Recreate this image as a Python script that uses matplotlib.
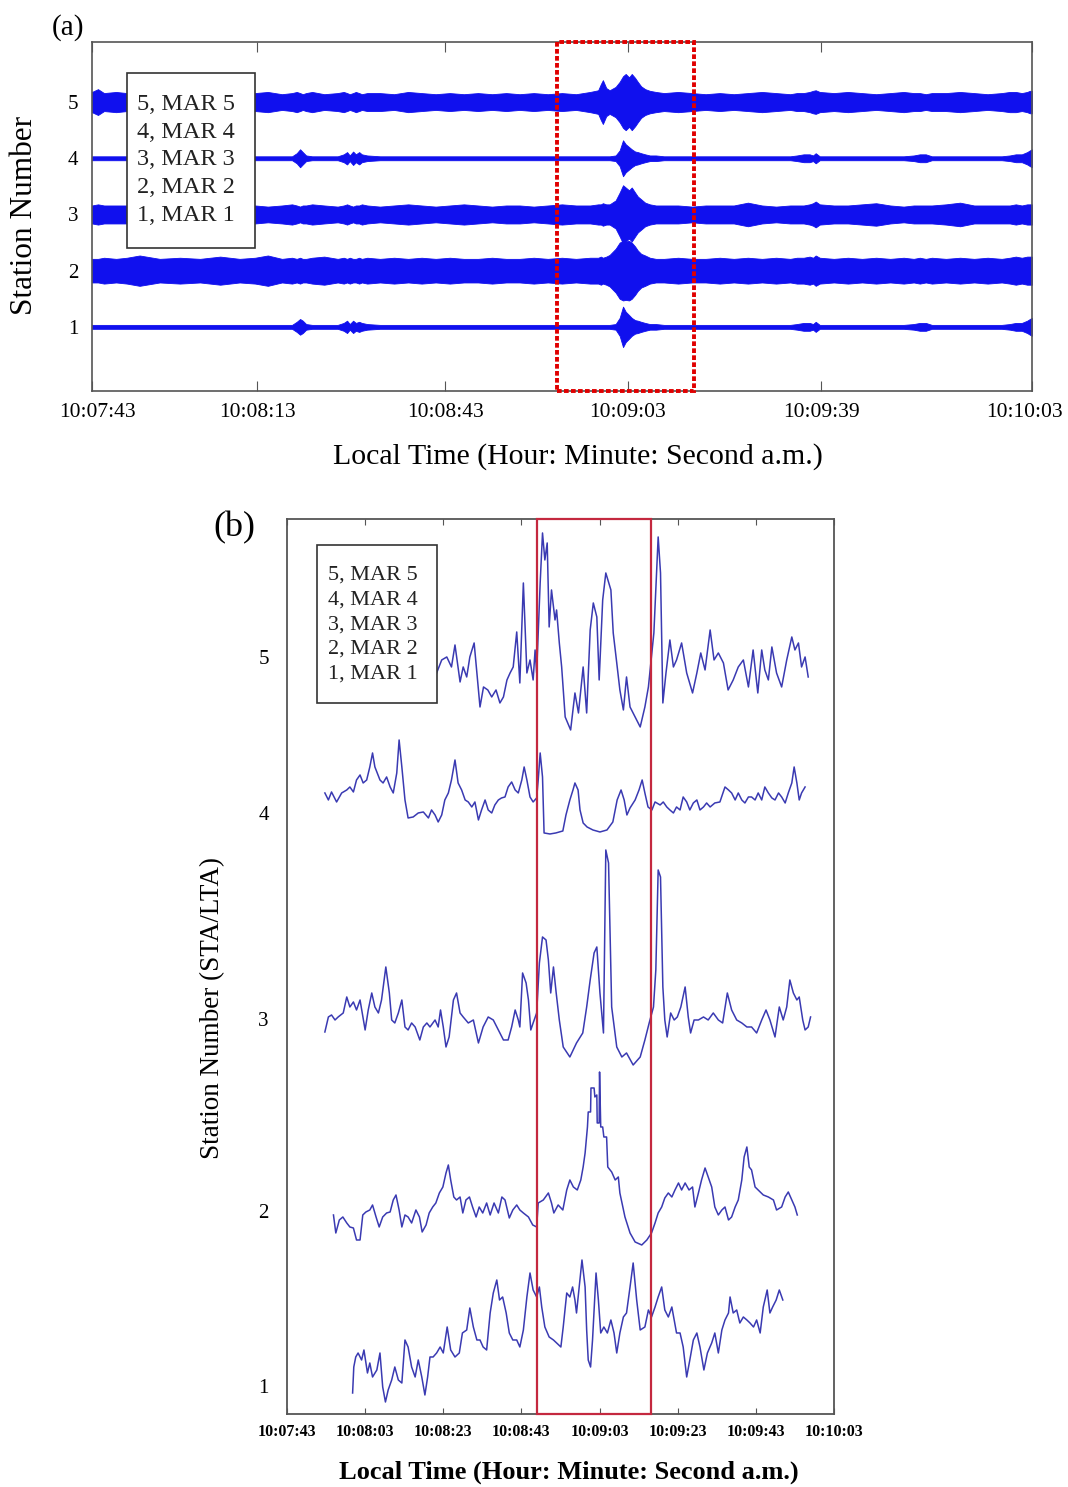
import matplotlib
matplotlib.use('Agg')
import matplotlib.pyplot as plt
import matplotlib.transforms as mtransforms
from matplotlib.patches import Rectangle
import numpy as np

plt.rcParams['font.family'] = ['Liberation Serif', 'DejaVu Serif']

########################################################
# Panel (a): seismic traces as envelopes
# knots in seconds after 10:07:43, half amplitude in station units
########################################################

a_t = [0.0, 0.9, 1.8, 3.6, 5.2, 7.1, 10.1, 13.1, 16.1, 19.1,
       22.0, 24.3, 26.2, 28.3, 29.8, 30.5, 31.0, 31.4, 31.9, 32.8,
       34.6, 36.6, 37.5, 38.0, 38.4, 38.9, 39.3, 39.8, 40.2, 41.0,
       42.9, 45.0, 47.1, 49.1, 51.2, 53.3, 55.4, 57.5, 59.6, 61.7,
       63.7, 65.8, 67.9, 70.0, 72.1, 74.2, 75.4, 75.8, 76.1, 76.6,
       77.1, 78.0, 78.6, 79.1, 79.5, 80.0, 80.4, 80.9, 81.3, 81.8,
       82.4, 83.1, 84.0, 85.2, 87.3, 89.4, 91.4, 93.5, 95.6, 97.7,
       99.8, 101.9, 104.0, 105.0, 106.0, 106.9, 107.4, 107.8, 108.4, 110.5,
       112.6, 114.7, 116.8, 118.9, 120.9, 122.4, 123.3, 124.2, 125.1, 127.2,
       129.3, 131.4, 133.4, 135.5, 136.7, 137.6, 138.5, 139.3, 139.7, 140.0]

a_amp5 = [0.18, 0.23, 0.16, 0.18, 0.16, 0.16, 0.16, 0.16, 0.16, 0.16,
          0.16, 0.16, 0.18, 0.14, 0.16, 0.18, 0.16, 0.14, 0.16, 0.18,
          0.14, 0.16, 0.18, 0.16, 0.14, 0.16, 0.18, 0.16, 0.14, 0.16,
          0.16, 0.14, 0.18, 0.16, 0.14, 0.16, 0.14, 0.16, 0.14, 0.16,
          0.14, 0.16, 0.14, 0.16, 0.14, 0.18, 0.21, 0.32, 0.39, 0.25,
          0.21, 0.27, 0.36, 0.46, 0.50, 0.44, 0.50, 0.43, 0.36, 0.28,
          0.23, 0.20, 0.18, 0.16, 0.18, 0.16, 0.14, 0.16, 0.14, 0.16,
          0.18, 0.16, 0.14, 0.16, 0.16, 0.18, 0.20, 0.21, 0.18, 0.16,
          0.18, 0.16, 0.14, 0.16, 0.18, 0.16, 0.16, 0.14, 0.16, 0.16,
          0.18, 0.16, 0.14, 0.16, 0.18, 0.18, 0.16, 0.18, 0.20, 0.20]

a_amp4 = [0.035, 0.035, 0.035, 0.035, 0.035, 0.035, 0.035, 0.035, 0.035, 0.035,
          0.035, 0.035, 0.035, 0.035, 0.035, 0.09, 0.16, 0.11, 0.05, 0.035,
          0.035, 0.035, 0.07, 0.11, 0.05, 0.12, 0.07, 0.11, 0.07, 0.05,
          0.035, 0.035, 0.035, 0.035, 0.035, 0.035, 0.035, 0.035, 0.035, 0.035,
          0.035, 0.035, 0.035, 0.035, 0.035, 0.035, 0.035, 0.035, 0.035, 0.035,
          0.035, 0.05, 0.14, 0.32, 0.25, 0.20, 0.16, 0.12, 0.11, 0.09,
          0.07, 0.05, 0.05, 0.035, 0.035, 0.035, 0.035, 0.035, 0.035, 0.035,
          0.035, 0.035, 0.035, 0.05, 0.07, 0.07, 0.05, 0.09, 0.035, 0.035,
          0.035, 0.035, 0.035, 0.035, 0.035, 0.05, 0.07, 0.07, 0.035, 0.035,
          0.035, 0.035, 0.035, 0.035, 0.05, 0.07, 0.07, 0.11, 0.14, 0.16]

a_amp3 = [0.16, 0.18, 0.16, 0.16, 0.16, 0.16, 0.16, 0.16, 0.16, 0.16,
          0.16, 0.16, 0.14, 0.16, 0.18, 0.16, 0.14, 0.16, 0.16, 0.18,
          0.16, 0.14, 0.16, 0.18, 0.16, 0.14, 0.16, 0.16, 0.18, 0.16,
          0.14, 0.16, 0.18, 0.16, 0.14, 0.16, 0.18, 0.16, 0.14, 0.16,
          0.16, 0.14, 0.16, 0.18, 0.16, 0.16, 0.18, 0.18, 0.20, 0.18,
          0.18, 0.25, 0.39, 0.52, 0.48, 0.43, 0.48, 0.39, 0.32, 0.27,
          0.21, 0.18, 0.16, 0.16, 0.16, 0.14, 0.16, 0.16, 0.16, 0.21,
          0.16, 0.14, 0.16, 0.16, 0.16, 0.18, 0.20, 0.23, 0.18, 0.16,
          0.16, 0.18, 0.20, 0.16, 0.14, 0.16, 0.16, 0.16, 0.16, 0.18,
          0.21, 0.16, 0.16, 0.16, 0.16, 0.18, 0.16, 0.18, 0.18, 0.18]

a_amp2 = [0.21, 0.21, 0.23, 0.21, 0.23, 0.27, 0.21, 0.23, 0.21, 0.25,
          0.21, 0.23, 0.27, 0.21, 0.23, 0.21, 0.23, 0.21, 0.21, 0.23,
          0.25, 0.21, 0.23, 0.21, 0.23, 0.21, 0.21, 0.23, 0.21, 0.23,
          0.21, 0.23, 0.21, 0.23, 0.21, 0.23, 0.21, 0.21, 0.23, 0.21,
          0.21, 0.23, 0.21, 0.23, 0.21, 0.23, 0.23, 0.25, 0.23, 0.25,
          0.28, 0.39, 0.50, 0.53, 0.52, 0.53, 0.50, 0.43, 0.36, 0.30,
          0.27, 0.23, 0.21, 0.21, 0.23, 0.21, 0.21, 0.23, 0.21, 0.23,
          0.21, 0.23, 0.21, 0.23, 0.23, 0.25, 0.23, 0.27, 0.23, 0.21,
          0.23, 0.21, 0.23, 0.21, 0.23, 0.21, 0.23, 0.21, 0.23, 0.21,
          0.23, 0.21, 0.23, 0.21, 0.23, 0.25, 0.23, 0.25, 0.25, 0.25]

a_amp1 = [0.035, 0.035, 0.035, 0.035, 0.035, 0.035, 0.035, 0.035, 0.035, 0.035,
          0.035, 0.035, 0.035, 0.035, 0.035, 0.09, 0.14, 0.11, 0.05, 0.035,
          0.035, 0.035, 0.07, 0.11, 0.05, 0.11, 0.07, 0.09, 0.07, 0.05,
          0.035, 0.035, 0.035, 0.035, 0.035, 0.035, 0.035, 0.035, 0.035, 0.035,
          0.035, 0.035, 0.035, 0.035, 0.035, 0.035, 0.035, 0.035, 0.035, 0.035,
          0.035, 0.05, 0.16, 0.36, 0.27, 0.21, 0.16, 0.12, 0.11, 0.09,
          0.07, 0.05, 0.05, 0.035, 0.035, 0.035, 0.035, 0.035, 0.035, 0.035,
          0.035, 0.035, 0.035, 0.05, 0.07, 0.07, 0.05, 0.09, 0.035, 0.035,
          0.035, 0.035, 0.035, 0.035, 0.035, 0.05, 0.07, 0.07, 0.035, 0.035,
          0.035, 0.035, 0.035, 0.035, 0.05, 0.07, 0.07, 0.11, 0.14, 0.16]

a_stations = [5, 4, 3, 2, 1]
a_xticks = [0, 24.6, 52.6, 79.8, 108.6, 140]
a_xticklabels = ['10:07:43', '10:08:13', '10:08:43', '10:09:03', '10:09:39', '10:10:03']
a_window = (69.3, 89.7)

########################################################
# Panel (b): STA/LTA curves (seconds, offset from station line)
########################################################

b_t5 = [38.3, 39.6, 40.9, 42.1, 43.0, 44.3, 45.1, 46.0, 46.8, 47.9,
        48.7, 49.4, 50.3, 51.4, 52.4, 53.5, 54.5, 55.4, 56.3, 57.1,
        57.9, 58.8, 59.6, 60.5, 61.4, 62.2, 63.0, 63.5, 63.9, 64.8,
        65.4, 66.0, 66.6, 67.1, 67.7, 68.6, 69.0, 69.7, 70.3, 71.2,
        72.6, 73.7, 74.6, 75.8, 76.7, 77.6, 78.4, 79.3, 79.9, 80.8,
        81.6, 82.9, 83.5, 84.4, 85.2, 86.1, 86.9, 87.8, 89.1, 90.4,
        91.6, 92.5, 93.9, 95.0, 95.6, 96.2, 97.0, 98.0, 98.9, 99.7,
        101.0, 102.3, 103.8, 104.9, 105.9, 107.0, 108.3, 109.3, 110.4, 111.7,
        112.9, 114.2, 115.5, 116.8, 118.1, 119.3, 120.5, 121.5, 122.3, 123.2,
        124.1, 125.3, 126.6, 127.9, 129.2, 130.0, 130.9, 131.7, 132.6, 133.4]
b_r5 = [-0.16, -0.03, 0.00, -0.10, 0.12, -0.25, -0.10, -0.20, 0.00, 0.14,
        -0.20, -0.50, -0.30, -0.33, -0.40, -0.33, -0.46, -0.40, -0.23, -0.16,
        -0.10, 0.25, -0.26, 0.74, -0.16, -0.03, -0.23, 0.07, -0.16, 0.74,
        1.24, 0.97, 1.14, 0.30, 0.67, 0.37, 0.47, 0.14, -0.10, -0.60,
        -0.73, -0.36, -0.56, -0.10, -0.56, 0.27, 0.54, 0.40, -0.23, 0.57,
        0.84, 0.67, 0.24, -0.06, -0.33, -0.53, -0.20, -0.50, -0.60, -0.70,
        -0.50, -0.30, 0.24, 1.20, 0.84, -0.46, -0.16, 0.17, -0.10, -0.03,
        0.14, -0.16, -0.36, -0.16, 0.04, -0.13, 0.27, -0.03, 0.04, -0.06,
        -0.33, -0.23, -0.10, -0.03, -0.30, 0.07, -0.36, 0.07, -0.13, -0.23,
        0.10, -0.16, -0.30, -0.03, 0.20, 0.07, 0.14, -0.10, 0.00, -0.20]

b_t4 = [9.7, 10.6, 11.4, 12.7, 14.0, 15.3, 16.1, 17.0, 17.8, 18.7,
        19.5, 20.4, 21.2, 21.9, 22.5, 23.1, 23.8, 24.6, 25.5, 26.4,
        27.2, 28.1, 28.7, 29.4, 30.2, 31.0, 32.3, 33.6, 34.9, 36.2,
        37.0, 37.9, 38.7, 39.6, 40.4, 41.3, 42.1, 43.0, 43.8, 44.7,
        45.6, 46.4, 47.3, 48.1, 49.0, 49.8, 50.7, 51.5, 52.4, 53.2,
        54.1, 54.9, 55.8, 56.6, 57.5, 58.4, 59.2, 60.1, 60.7, 61.4,
        62.2, 63.0, 63.9, 64.3, 64.8, 65.4, 65.8, 67.3, 68.8, 70.6,
        71.4, 72.4, 73.2, 73.7, 74.5, 75.0, 75.8, 76.8, 78.3, 80.1,
        81.9, 83.4, 84.5, 85.5, 86.3, 87.0, 87.8, 89.1, 90.1, 90.9,
        91.6, 92.4, 93.4, 94.2, 95.5, 96.3, 97.2, 98.0, 98.9, 99.7,
        100.6, 101.4, 102.3, 103.1, 104.0, 104.9, 105.7, 106.6, 107.4, 108.3,
        109.5, 110.8, 112.1, 113.0, 113.8, 114.7, 115.5, 116.4, 117.2, 118.1,
        118.9, 119.8, 120.6, 121.5, 122.3, 123.2, 124.1, 124.9, 125.8, 126.6,
        127.5, 128.3, 129.2, 129.8, 130.5, 131.1, 131.7, 132.6]
b_r4 = [0.20, 0.13, 0.21, 0.11, 0.20, 0.23, 0.26, 0.21, 0.33, 0.38,
        0.30, 0.33, 0.46, 0.60, 0.46, 0.40, 0.33, 0.30, 0.36, 0.26,
        0.20, 0.40, 0.73, 0.46, 0.13, -0.05, -0.04, 0.00, 0.01, -0.05,
        0.03, -0.02, -0.09, -0.02, 0.13, 0.20, 0.33, 0.53, 0.30, 0.23,
        0.13, 0.11, 0.06, 0.11, -0.07, 0.03, 0.13, 0.03, 0.00, 0.08,
        0.13, 0.15, 0.16, 0.26, 0.31, 0.23, 0.20, 0.33, 0.46, 0.33,
        0.16, 0.11, 0.15, 0.33, 0.60, 0.36, -0.20, -0.21, -0.20, -0.18,
        -0.02, 0.13, 0.23, 0.30, 0.23, 0.03, -0.10, -0.14, -0.17, -0.19,
        -0.17, -0.09, 0.13, 0.23, 0.13, -0.02, 0.05, 0.13, 0.23, 0.33,
        0.20, 0.06, 0.03, 0.11, 0.08, 0.11, 0.06, 0.03, 0.00, 0.06,
        0.03, 0.16, 0.11, 0.03, 0.10, 0.13, 0.03, 0.06, 0.10, 0.06,
        0.10, 0.11, 0.26, 0.23, 0.20, 0.13, 0.20, 0.13, 0.10, 0.16,
        0.16, 0.13, 0.20, 0.13, 0.26, 0.20, 0.15, 0.13, 0.20, 0.16,
        0.10, 0.20, 0.30, 0.46, 0.30, 0.13, 0.20, 0.26]

b_t3 = [9.7, 10.6, 11.4, 12.3, 13.1, 14.4, 15.3, 16.1, 17.0, 17.8,
        18.7, 20.0, 20.8, 21.7, 22.5, 23.4, 24.2, 25.3, 26.2, 26.8,
        27.6, 28.5, 29.4, 30.2, 31.0, 31.9, 32.8, 34.0, 34.9, 35.8,
        36.6, 37.9, 38.7, 39.3, 40.0, 40.7, 41.5, 42.6, 43.4, 44.3,
        45.1, 46.4, 47.7, 49.0, 50.2, 51.5, 52.8, 54.1, 55.4, 56.6,
        57.5, 58.4, 59.2, 59.6, 60.3, 61.2, 61.8, 62.4, 63.0, 63.9,
        64.6, 65.4, 66.3, 66.9, 67.5, 68.2, 68.9, 69.7, 70.7, 72.4,
        74.1, 75.7, 76.7, 77.6, 78.6, 79.3, 80.1, 81.0, 81.6, 82.3,
        83.1, 84.4, 85.7, 86.9, 88.6, 90.4, 91.6, 92.7, 93.8, 94.4,
        95.0, 95.6, 96.2, 96.7, 97.3, 98.2, 99.1, 99.9, 100.8, 101.9,
        102.7, 103.3, 104.2, 105.3, 106.6, 107.8, 109.1, 110.4, 111.5, 112.7,
        113.8, 115.1, 116.4, 117.7, 118.9, 120.2, 121.5, 122.6, 123.6, 124.9,
        126.0, 127.0, 127.9, 128.7, 129.6, 130.5, 131.1, 132.0, 132.6, 133.4,
        134.0]
b_r3 = [-0.13, 0.02, 0.04, -0.01, 0.02, 0.06, 0.22, 0.12, 0.17, 0.09,
        0.19, -0.11, 0.09, 0.26, 0.12, 0.06, 0.19, 0.52, 0.26, -0.01,
        -0.04, 0.06, 0.19, -0.08, -0.11, -0.04, -0.08, -0.21, -0.08, -0.04,
        -0.08, -0.01, -0.08, 0.09, -0.08, -0.28, -0.18, 0.19, 0.26, 0.06,
        0.02, -0.04, -0.01, -0.24, -0.08, 0.02, -0.01, -0.11, -0.21, -0.21,
        -0.08, 0.09, -0.01, -0.08, 0.46, 0.36, 0.19, -0.11, -0.04, 0.06,
        0.56, 0.82, 0.79, 0.59, 0.26, 0.52, 0.26, -0.01, -0.28, -0.38,
        -0.24, -0.14, 0.12, 0.39, 0.66, 0.72, 0.26, -0.14, 1.69, 1.56,
        0.12, -0.28, -0.38, -0.34, -0.46, -0.38, -0.21, -0.04, 0.12, 0.49,
        1.49, 1.42, 0.32, -0.01, -0.18, 0.06, -0.01, 0.02, 0.12, 0.32,
        0.02, -0.14, -0.01, -0.01, 0.02, -0.01, 0.06, -0.01, -0.04, 0.26,
        0.09, -0.01, -0.04, -0.08, -0.08, -0.14, -0.01, 0.09, -0.01, -0.18,
        0.12, -0.01, 0.12, 0.39, 0.26, 0.19, 0.22, -0.01, -0.11, -0.08,
        0.02]

b_t2 = [11.9, 12.5, 13.4, 14.3, 15.3, 16.1, 17.0, 17.8, 18.7, 19.4,
        20.2, 21.2, 21.9, 22.8, 23.6, 24.5, 25.5, 26.4, 27.2, 27.9,
        28.7, 29.4, 30.2, 31.0, 31.9, 33.0, 33.9, 34.6, 35.6, 36.4,
        37.3, 38.1, 39.0, 39.9, 40.7, 41.3, 41.9, 42.7, 43.4, 44.3,
        45.0, 45.8, 46.7, 47.5, 48.4, 49.2, 50.1, 51.1, 52.0, 53.0,
        54.1, 55.0, 55.8, 56.9, 57.8, 58.8, 59.6, 60.5, 61.8, 62.9,
        63.9, 64.3, 65.6, 66.9, 67.7, 68.3, 69.4, 70.6, 71.6, 72.4,
        73.3, 74.3, 75.2, 75.8, 76.3, 76.9, 77.1, 77.7, 77.8, 78.6,
        78.8, 79.3, 79.4, 79.9, 80.0, 80.3, 80.8, 81.1, 81.8, 82.1,
        83.1, 84.0, 84.8, 85.2, 86.5, 87.8, 89.1, 90.8, 92.1, 93.3,
        94.2, 95.0, 95.9, 96.7, 97.6, 98.5, 99.3, 100.2, 101.0, 101.9,
        102.9, 103.8, 104.4, 105.3, 106.1, 107.0, 107.8, 108.7, 109.5, 110.4,
        111.3, 112.1, 113.0, 113.8, 114.7, 115.5, 116.4, 117.0, 117.7, 118.3,
        118.9, 119.8, 120.6, 121.9, 123.2, 124.5, 125.3, 126.6, 127.5, 128.3,
        129.2, 130.0, 130.6]
b_r2 = [-0.04, -0.22, -0.09, -0.06, -0.12, -0.16, -0.17, -0.29, -0.29, -0.04,
        -0.01, 0.01, 0.06, -0.06, -0.16, -0.06, -0.02, -0.01, 0.11, 0.16,
        0.01, -0.16, -0.04, -0.06, -0.12, 0.01, -0.06, -0.21, -0.14, -0.02,
        0.04, 0.08, 0.18, 0.24, 0.38, 0.46, 0.31, 0.14, 0.11, 0.14,
        -0.02, 0.11, 0.14, 0.04, -0.06, 0.04, -0.02, 0.08, -0.04, 0.08,
        -0.02, 0.14, 0.11, -0.07, 0.01, 0.06, 0.01, -0.02, -0.06, -0.14,
        -0.16, 0.08, 0.11, 0.18, 0.08, -0.02, 0.06, 0.01, 0.21, 0.31,
        0.24, 0.21, 0.31, 0.44, 0.58, 0.84, 0.99, 0.99, 1.23, 1.23,
        1.14, 1.16, 0.88, 0.88, 1.39, 0.84, 0.84, 0.74, 0.74, 0.44,
        0.39, 0.31, 0.34, 0.18, -0.06, -0.22, -0.31, -0.34, -0.29, -0.22,
        -0.12, -0.02, 0.04, 0.13, 0.18, 0.14, 0.21, 0.28, 0.21, 0.28,
        0.21, 0.24, 0.04, 0.18, 0.31, 0.43, 0.34, 0.24, 0.04, -0.04,
        0.01, 0.04, -0.09, -0.06, 0.04, 0.11, 0.31, 0.54, 0.64, 0.44,
        0.41, 0.24, 0.21, 0.16, 0.14, 0.11, 0.01, 0.04, 0.14, 0.19,
        0.11, 0.04, -0.04]

b_t1 = [16.8, 17.1, 17.6, 18.2, 19.1, 19.7, 20.6, 21.2, 21.9, 23.0,
        23.8, 24.5, 25.2, 25.9, 26.8, 27.6, 28.5, 29.4, 30.2, 31.0,
        31.9, 32.8, 33.6, 34.5, 35.3, 36.0, 36.6, 37.4, 38.3, 39.2,
        40.0, 41.0, 41.9, 43.0, 44.1, 44.9, 46.0, 46.8, 47.7, 48.6,
        49.4, 50.2, 51.1, 52.0, 52.8, 53.7, 54.4, 55.2, 56.1, 56.9,
        57.8, 58.8, 59.6, 60.5, 61.4, 62.2, 63.0, 63.9, 64.6, 65.2,
        66.0, 67.1, 68.2, 69.0, 70.1, 70.7, 71.6, 72.4, 73.1, 73.7,
        74.1, 74.8, 75.5, 76.3, 76.7, 77.1, 77.7, 78.2, 79.1, 79.7,
        80.3, 81.1, 82.0, 82.9, 83.7, 84.4, 85.2, 86.1, 86.9, 87.8,
        88.6, 89.5, 90.4, 91.6, 92.5, 93.3, 94.2, 95.0, 95.9, 96.7,
        97.6, 98.5, 99.7, 100.6, 101.4, 102.3, 103.1, 104.0, 104.9, 105.7,
        106.7, 107.6, 108.7, 109.5, 110.4, 111.3, 112.1, 113.0, 113.4, 114.2,
        115.1, 115.9, 116.8, 117.7, 118.5, 119.4, 120.2, 121.1, 121.9, 122.9,
        123.6, 124.3, 125.2, 126.0, 126.9]
b_r1 = [-0.07, 0.19, 0.29, 0.33, 0.26, 0.36, 0.13, 0.23, 0.09, 0.16,
        0.33, -0.01, -0.16, -0.04, 0.06, 0.19, 0.06, 0.03, 0.46, 0.39,
        0.19, 0.09, 0.26, 0.09, -0.09, 0.09, 0.29, 0.29, 0.33, 0.39,
        0.33, 0.59, 0.36, 0.29, 0.33, 0.53, 0.56, 0.78, 0.59, 0.46,
        0.46, 0.39, 0.36, 0.73, 0.93, 1.06, 0.86, 0.89, 0.73, 0.53,
        0.46, 0.46, 0.39, 0.56, 0.89, 1.13, 0.96, 0.89, 0.99, 0.79,
        0.59, 0.49, 0.46, 0.43, 0.39, 0.59, 0.93, 0.89, 0.99, 0.86,
        0.73, 0.99, 1.26, 0.99, 0.56, 0.26, 0.19, 0.46, 1.13, 0.86,
        0.53, 0.59, 0.53, 0.66, 0.53, 0.33, 0.53, 0.69, 0.73, 0.99,
        1.23, 0.86, 0.56, 0.59, 0.76, 0.69, 0.79, 0.89, 0.99, 0.76,
        0.69, 0.79, 0.53, 0.53, 0.39, 0.09, 0.26, 0.46, 0.53, 0.39,
        0.16, 0.33, 0.43, 0.53, 0.33, 0.56, 0.66, 0.73, 0.89, 0.73,
        0.76, 0.63, 0.69, 0.66, 0.63, 0.59, 0.66, 0.53, 0.79, 0.96,
        0.73, 0.79, 0.86, 0.96, 0.86]

b_xticks = [0, 20, 40, 60, 80, 100, 120, 140]
b_xticklabels = ['10:07:43', '10:08:03', '10:08:23', '10:08:43',
                 '10:09:03', '10:09:23', '10:09:43', '10:10:03']
b_station_pos = [7.57, 6.01, 3.95, 2.03, 0.28]
b_window = (64.0, 93.2)

legend_lines = ['5, MAR 5', '4, MAR 4', '3, MAR 3', '2, MAR 2', '1, MAR 1']

blue_a = '#1010ee'
blue_b = '#3a3ab2'
spine_col = '#555555'

fig = plt.figure(figsize=(10.68, 14.87), dpi=100)

########################################################
# (a)
########################################################
ax = fig.add_axes([0.0861, 0.7371, 0.8801, 0.2347])
for st, amp in zip(a_stations, [a_amp5, a_amp4, a_amp3, a_amp2, a_amp1]):
    amp = np.array(amp)
    ax.fill_between(a_t, st - amp, st + amp, color=blue_a, lw=0.6, zorder=2)

ax.set_xlim(0, 140)
ax.set_ylim(-0.14, 6.07)
ax.set_xticks(a_xticks)
ax.set_xticklabels(a_xticklabels, fontsize=15.5)
ax.set_yticks([1, 2, 3, 4, 5])
ax.set_yticklabels(['1', '2', '3', '4', '5'], fontsize=15)
ax.tick_params(axis='x', direction='in', length=7, top=True, pad=9, color=spine_col)
ax.tick_params(axis='y', length=0, pad=10)
for s in ax.spines.values():
    s.set_color(spine_col)
    s.set_linewidth(1.2)
# nudge the end labels inwards a little, as in the figure
shifts = [6, 0, 0, 0, 0, -7]
for lab, dx in zip(ax.get_xticklabels(), shifts):
    lab.set_transform(lab.get_transform() +
                      mtransforms.ScaledTranslation(dx / 100, 0, fig.dpi_scale_trans))

trans = mtransforms.blended_transform_factory(ax.transData, ax.transAxes)
ax.add_patch(Rectangle((a_window[0], 0), a_window[1] - a_window[0], 1, transform=trans,
                       fill=False, ec='#e00000', lw=2.8, ls=(0, (1.2, 0.6)),
                       clip_on=False, zorder=5))

ax.add_patch(Rectangle((0.0372, 0.410), 0.1362, 0.501, transform=ax.transAxes,
                       fc='white', ec='#333333', lw=1.2, zorder=6))
for i, txt in enumerate(legend_lines):
    ax.text(0.0479, 0.8195 - i * 0.0789, txt, transform=ax.transAxes,
            fontsize=17.5, va='center', ha='left', color='#222222', zorder=7)

fig.text(0.0637, 0.9818, '(a)', fontsize=21, ha='center', va='center')
fig.text(0.0234, 0.8554, 'Station Number', fontsize=22.5, rotation=90,
         ha='center', va='center')
fig.text(0.541, 0.6927, 'Local Time (Hour: Minute: Second a.m.)', fontsize=21.5,
         ha='center', va='center')

########################################################
# (b)
########################################################
bx = fig.add_axes([0.2687, 0.0491, 0.5122, 0.6019])
for pos, t, r in zip(b_station_pos, [b_t5, b_t4, b_t3, b_t2, b_t1],
                     [b_r5, b_r4, b_r3, b_r2, b_r1]):
    bx.plot(t, pos + np.array(r), color=blue_b, lw=1.1, zorder=2)

bx.set_xlim(0, 140)
bx.set_ylim(0, 8.95)
bx.set_xticks(b_xticks)
bx.set_xticklabels(b_xticklabels, fontsize=11.5, fontweight='bold')
bx.set_yticks(b_station_pos)
bx.set_yticklabels(['5', '4', '3', '2', '1'], fontsize=15)
bx.tick_params(axis='x', direction='in', length=4, top=True, pad=7, color=spine_col)
bx.tick_params(axis='y', length=0, pad=13)
for s in bx.spines.values():
    s.set_color(spine_col)
    s.set_linewidth(1.3)

trans_b = mtransforms.blended_transform_factory(bx.transData, bx.transAxes)
bx.add_patch(Rectangle((b_window[0], 0), b_window[1] - b_window[0], 1, transform=trans_b,
                       fill=False, ec='#c4283f', lw=1.6, clip_on=False, zorder=5))

bx.add_patch(Rectangle((0.0548, 0.7944), 0.2194, 0.1766, transform=bx.transAxes,
                       fc='white', ec='#333333', lw=1.2, zorder=6))
for i, txt in enumerate(legend_lines):
    bx.text(0.075, 0.9374 - i * 0.0277, txt, transform=bx.transAxes,
            fontsize=16, va='center', ha='left', color='#222222', zorder=7)

fig.text(0.219, 0.645, '(b)', fontsize=26, ha='center', va='center')
fig.text(0.1994, 0.3221, 'Station Number (STA/LTA)', fontsize=19.5, rotation=90,
         ha='center', va='center')
fig.text(0.5328, 0.0101, 'Local Time (Hour: Minute: Second a.m.)', fontsize=19,
         fontweight='bold', ha='center', va='center')

fig.savefig('out.png', dpi=100)
